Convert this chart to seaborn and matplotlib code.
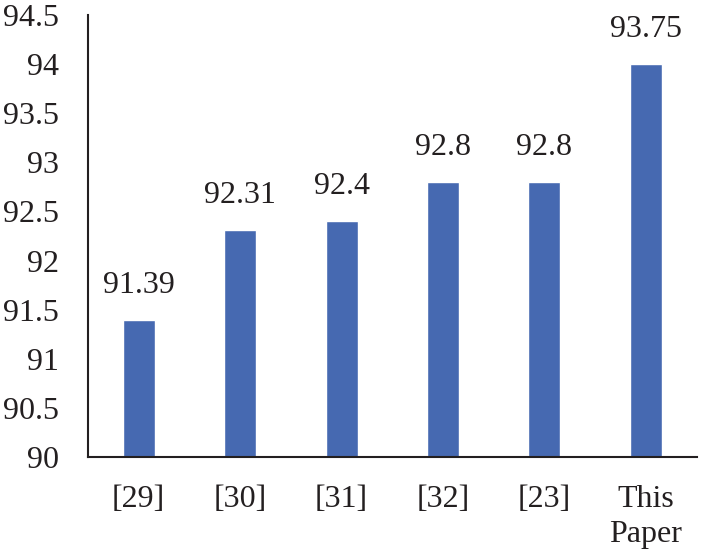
import pandas as pd
import seaborn as sns
import matplotlib.pyplot as plt

# chart data
methods = ['[29]', '[30]', '[31]', '[32]', '[23]', 'This\nPaper']
accuracy = [91.39, 92.31, 92.4, 92.8, 92.8, 94.0]
bar_labels = ['91.39', '92.31', '92.4', '92.8', '92.8', '93.75']
y_ticks = [90, 90.5, 91, 91.5, 92, 92.5, 93, 93.5, 94, 94.5]
y_tick_labels = ['90', '90.5', '91', '91.5', '92', '92.5', '93', '93.5', '94', '94.5']

df = pd.DataFrame({'method': methods, 'accuracy': accuracy})

sns.set_style('white')
plt.rcParams['font.family'] = ['Liberation Serif', 'DejaVu Serif']

fig = plt.figure(figsize=(7.03, 5.53), dpi=100)
ax = fig.add_axes([0.125, 0.1736, 0.866, 0.7994])

sns.barplot(data=df, x='method', y='accuracy', color='#4669B1',
            saturation=1, width=0.315, ax=ax)

# value labels above bars
for i, (v, lab) in enumerate(zip(accuracy, bar_labels)):
    ax.annotate(lab, (i, v), xytext=(0, 25), textcoords='offset points',
                ha='center', va='center', fontsize=23, color='#231f20')

ax.set_ylim(90, 94.5)
ax.set_xlim(-0.5, 5.5)
ax.set_yticks(y_ticks)
ax.set_yticklabels(y_tick_labels)
ax.set_xlabel('')
ax.set_ylabel('')
ax.tick_params(axis='y', length=0, pad=21, labelsize=23, labelcolor='#231f20')
ax.tick_params(axis='x', length=0, pad=20, labelsize=23, labelcolor='#231f20')
for t in ax.get_xticklabels():
    t.set_linespacing(1.3)

sns.despine(ax=ax, top=True, right=True)
for side in ['left', 'bottom']:
    ax.spines[side].set_linewidth(1.5)
    ax.spines[side].set_color('#231f20')

fig.savefig('out.png', dpi=100)
